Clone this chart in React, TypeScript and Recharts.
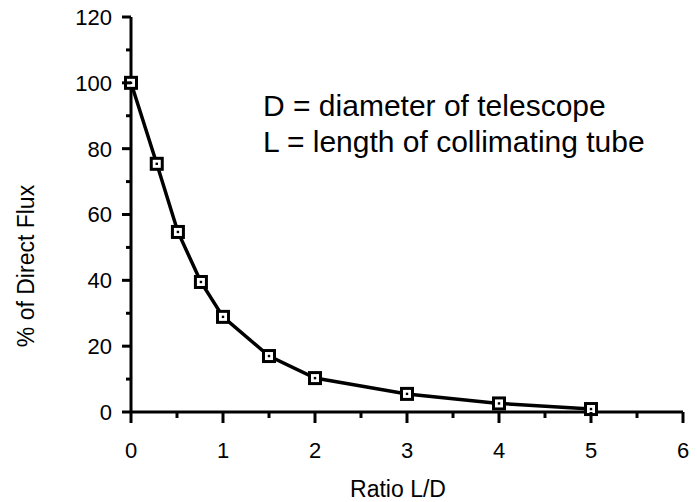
import { Line, LineChart, XAxis, YAxis } from "recharts";

const ratio = [0, 0.28, 0.51, 0.76, 1, 1.5, 2, 3, 4, 5];
const flux = [100, 75.4, 54.7, 39.5, 28.9, 17, 10.3, 5.5, 2.6, 0.9];
const xTicks = [0, 0.5, 1, 1.5, 2, 2.5, 3, 3.5, 4, 4.5, 5, 5.5, 6];
const yTicks = [0, 10, 20, 30, 40, 50, 60, 70, 80, 90, 100, 110, 120];
const notes = ["D = diameter of telescope", "L = length of collimating tube"];

const font = "Liberation Sans, Arial, Helvetica, sans-serif";
const ink = "#000";

const data = ratio.map((r, i) => ({ r, v: flux[i] }));

function YTick(props: any) {
  const { x, y, payload } = props;
  const major = payload.value % 20 === 0;
  return (
    <g>
      <line x1={x} x2={x - (major ? 9 : 5)} y1={y} y2={y} stroke={ink} strokeWidth={3} />
      {major && (
        <text x={x - 19} y={y} dy="0.36em" textAnchor="end" fontSize={22} fontFamily={font} fill={ink}>
          {payload.value}
        </text>
      )}
    </g>
  );
}

function XTick(props: any) {
  const { x, y, payload } = props;
  const major = Number.isInteger(payload.value);
  return (
    <g>
      <line x1={x} x2={x} y1={y} y2={y + (major ? 11 : 6)} stroke={ink} strokeWidth={3} />
      {major && (
        <text x={x} y={y + 46} textAnchor="middle" fontSize={22} fontFamily={font} fill={ink}>
          {payload.value}
        </text>
      )}
    </g>
  );
}

function SquareDot(props: any) {
  const { cx, cy } = props;
  if (cx == null || cy == null) return null;
  return (
    <g>
      <rect x={cx - 5.5} y={cy - 5.5} width={11} height={11} fill="#fff" stroke={ink} strokeWidth={3} />
      <rect x={cx - 1.2} y={cy - 1.2} width={2.4} height={2.4} fill={ink} />
    </g>
  );
}

export default function App() {
  return (
    <div style={{ position: "absolute", left: 0, top: 0, background: "#fff" }}>
      <LineChart
        width={697}
        height={502}
        data={data}
        margin={{ top: 17, right: 14, bottom: 50, left: 71 }}
      >
        <XAxis
          dataKey="r"
          type="number"
          domain={[0, 6]}
          ticks={xTicks}
          height={40}
          tickSize={0}
          tickMargin={0}
          tick={<XTick />}
          tickLine={false}
          axisLine={{ stroke: ink, strokeWidth: 3 }}
          interval={0}
        />
        <YAxis
          type="number"
          domain={[0, 120]}
          ticks={yTicks}
          width={60}
          tickSize={0}
          tickMargin={0}
          tick={<YTick />}
          tickLine={false}
          axisLine={{ stroke: ink, strokeWidth: 3 }}
          interval={0}
        />
        <Line
          type="linear"
          dataKey="v"
          stroke={ink}
          strokeWidth={3.5}
          dot={<SquareDot />}
          activeDot={false}
          isAnimationActive={false}
        />
        <text x={398} y={497} textAnchor="middle" fontSize={23} fontFamily={font} fill={ink}>
          Ratio L/D
        </text>
        <text
          x={34}
          y={266}
          textAnchor="middle"
          fontSize={23}
          fontFamily={font}
          fill={ink}
          transform="rotate(-90, 34, 266)"
        >
          % of Direct Flux
        </text>
        {notes.map((n, i) => (
          <text key={n} x={263} y={116 + i * 36} fontSize={30} fontFamily={font} fill={ink}>
            {n}
          </text>
        ))}
      </LineChart>
    </div>
  );
}
